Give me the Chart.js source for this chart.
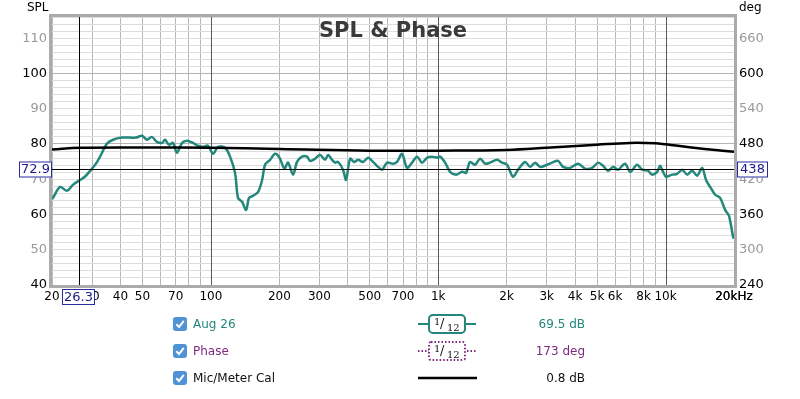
<!DOCTYPE html>
<html>
<head>
<meta charset="utf-8">
<script src="https://cdn.jsdelivr.net/npm/chart.js@4.4.1/dist/chart.umd.min.js"></script>
<style>
  body { margin: 0; background: #fff; font-family: "DejaVu Sans", sans-serif; }
  #wrap { position: relative; width: 800px; height: 399px; overflow: hidden; }
  #chart { position: absolute; left: 0; top: 0; }
  .cb { position: absolute; left: 173px; width: 14px; height: 14px; }
  .lbl { position: absolute; left: 193px; font-size: 12px; line-height: 14px; }
  .val { position: absolute; right: 215px; font-size: 12px; line-height: 14px; text-align: right; }
  #samples { position: absolute; left: 410px; top: 308px; }
</style>
</head>
<body>
<div id="wrap">
  <canvas id="chart" width="800" height="399"></canvas>

  <svg class="cb" style="top:317px" viewBox="0 0 14 14"><rect width="14" height="14" rx="3" fill="#4f93d6"/><path d="M3.3 7.3 L6 10 L10.8 3.8" stroke="#fff" stroke-width="2" fill="none"/></svg>
  <div class="lbl" style="top:317px;color:#23877c">Aug 26</div>
  <svg class="cb" style="top:344px" viewBox="0 0 14 14"><rect width="14" height="14" rx="3" fill="#4f93d6"/><path d="M3.3 7.3 L6 10 L10.8 3.8" stroke="#fff" stroke-width="2" fill="none"/></svg>
  <div class="lbl" style="top:344px;color:#7f2a7f">Phase</div>
  <svg class="cb" style="top:371px" viewBox="0 0 14 14"><rect width="14" height="14" rx="3" fill="#4f93d6"/><path d="M3.3 7.3 L6 10 L10.8 3.8" stroke="#fff" stroke-width="2" fill="none"/></svg>
  <div class="lbl" style="top:371px;color:#111">Mic/Meter Cal</div>

  <svg id="samples" width="80" height="80">
    <line x1="8" y1="16" x2="66" y2="16" stroke="#23877c" stroke-width="2"/>
    <rect x="19" y="7" width="36" height="18" rx="4" fill="#fff" stroke="#23877c" stroke-width="2"/>
    <text x="24" y="17" font-size="10" font-family="DejaVu Serif" fill="#111">1</text>
    <text x="30" y="20" font-size="13" font-family="DejaVu Serif" fill="#111">/</text>
    <text x="37" y="23" font-size="10" font-family="DejaVu Serif" fill="#111">12</text>

    <line x1="8" y1="43" x2="66" y2="43" stroke="#7f2a7f" stroke-width="2" stroke-dasharray="1.5,2"/>
    <rect x="19" y="34" width="36" height="18" rx="2" fill="#fff" stroke="#7f2a7f" stroke-width="2" stroke-dasharray="1.5,2"/>
    <text x="24" y="44" font-size="10" font-family="DejaVu Serif" fill="#111">1</text>
    <text x="30" y="47" font-size="13" font-family="DejaVu Serif" fill="#111">/</text>
    <text x="37" y="50" font-size="10" font-family="DejaVu Serif" fill="#111">12</text>

    <line x1="8" y1="70" x2="67" y2="70" stroke="#000" stroke-width="2.5"/>
  </svg>

  <div class="val" style="top:317px;color:#23877c">69.5 dB</div>
  <div class="val" style="top:344px;color:#7f2a7f">173 deg</div>
  <div class="val" style="top:371px;color:#111">0.8 dB</div>
</div>

<script>
// SPL measurement (Aug 26), 1/12 octave smoothed
const splFreq = [20, 20.2, 21.7, 23.3, 24.7, 26.6, 27.9, 30.0, 31.6, 33.2, 34.9, 37.1, 40.6, 44.1, 46.8,
  49.8, 52.4, 55.0, 57.9, 61.0, 62.8, 65.4, 68.1, 70.9, 74.7, 78.5, 83.4, 87.7, 92.3, 97.1,
  102.2, 107.5, 115.4, 121.4, 127.7, 131.6, 137.1, 142.8, 147.2, 153.3, 161.3, 168.0, 173.1, 182.1, 191.5,
  200.3, 210.6, 218.4, 229.8, 239.3, 251.7, 264.8, 273.0, 287.2, 302.1, 317.8, 327.6, 341.2, 351.7, 362.5,
  381.3, 393.1, 409.4, 426.4, 444.0, 467.1, 491.4, 516.8, 543.6, 566.1, 595.6, 632.6, 659.0, 693.0, 729.1,
  766.9, 806.8, 848.7, 892.8, 939.3, 988.1, 1019, 1072, 1127, 1198, 1273, 1326, 1380, 1452, 1528,
  1607, 1690, 1815, 1908, 2008, 2133, 2244, 2410, 2535, 2667, 2805, 3012, 3168, 3366, 3541,
  3802, 4122, 4426, 4754, 5050, 5310, 5586, 5876, 6180, 6638, 6982, 7498, 7888, 8376, 8730,
  9184, 9464, 9750, 10046, 10684, 11240, 11824, 12440, 13092, 13774, 14488, 15068, 15704, 16520, 17378,
  18282, 19014, 19816, 20000];
const splDb = [64.4, 64.7, 67.8, 66.7, 68.4, 69.8, 70.7, 73.0, 74.9, 77.5, 80.1, 81.2, 81.8, 81.8, 81.8,
  82.3, 81.2, 82.0, 80.6, 80.3, 81.2, 79.8, 80.3, 77.5, 80.3, 80.9, 80.3, 79.5, 79.2, 79.5,
  77.2, 79.2, 78.9, 76.4, 71.8, 64.7, 63.6, 61.3, 64.7, 65.3, 66.4, 69.8, 74.1, 75.5, 77.2,
  76.1, 73.0, 74.7, 71.3, 74.9, 76.4, 76.4, 75.2, 75.8, 76.9, 75.5, 76.9, 75.5, 74.7, 74.9,
  72.7, 69.8, 75.8, 74.9, 75.5, 74.9, 76.1, 74.9, 73.5, 72.7, 74.7, 74.4, 74.9, 77.2, 73.2,
  74.7, 76.4, 74.7, 76.1, 76.4, 76.1, 76.4, 74.7, 72.1, 71.3, 72.1, 71.8, 74.9, 74.1, 75.8,
  74.4, 74.7, 75.5, 74.7, 74.1, 70.7, 72.7, 74.9, 73.5, 74.7, 73.5, 74.1, 74.7, 75.2, 73.5,
  73.2, 74.4, 73.0, 73.2, 74.7, 73.8, 72.4, 73.5, 72.7, 74.4, 72.1, 74.1, 72.7, 72.4, 71.3,
  72.1, 73.8, 72.1, 70.7, 71.3, 71.5, 72.7, 71.3, 72.4, 71.0, 73.2, 69.8, 67.8, 65.6, 64.7,
  61.3, 59.6, 53.6, 53.2];

// Mic/Meter calibration curve
const calFreq = [20, 26.6, 50, 100, 200, 500, 1000, 2000, 3000, 5000, 7000, 9000, 10000, 13000, 17000, 20000];
const calDb = [78.4, 78.9, 79.0, 78.9, 78.6, 78.1, 78.1, 78.3, 78.9, 79.8, 80.3, 80.2, 79.9, 79.0, 78.2, 77.8];

// axis labels
const xTickVals = [20, 30, 40, 50, 70, 100, 200, 300, 500, 700, 1000, 2000, 3000, 4000, 5000, 6000, 8000, 10000, 20000];
const xTickLabels = ['20', '30', '40', '50', '70', '100', '200', '300', '500', '700', '1k', '2k', '3k', '4k', '5k', '6k', '8k', '10k', '20kHz'];
const decadeLines = [100, 1000, 10000];
const splTicks = [40, 50, 60, 70, 80, 90, 100, 110];
const degTicks = [240, 300, 360, 420, 480, 540, 600, 660];

// cursor position
const cursorFreq = 26.3;
const cursorSpl = 72.9;
const cursorDeg = 438;

const TEAL = '#23877c';
const FONT = '"DejaVu Sans", sans-serif';

// vertical grid lines: every 1..9 step of each decade
const xGrid = [];
[10, 100, 1000, 10000].forEach(d => {
  for (let m = 1; m < 10; m++) {
    const v = m * d;
    if (v >= 20 && v <= 20000) xGrid.push(v);
  }
});
xGrid.push(20000);

const chartDecor = {
  id: 'chartDecor',
  beforeDatasetsDraw(chart) {
    const { ctx, chartArea } = chart;
    ctx.save();
    // decade lines on top of the horizontal grid so they stay solid
    ctx.strokeStyle = '#5a5a5a';
    ctx.lineWidth = 1;
    ctx.beginPath();
    decadeLines.forEach(v => {
      const px = Math.round(chart.scales.x.getPixelForValue(v)) + 0.5;
      ctx.moveTo(px, chartArea.top);
      ctx.lineTo(px, chartArea.bottom);
    });
    ctx.stroke();

    ctx.font = 'bold 21px ' + FONT;
    ctx.fillStyle = '#3a3a3a';
    ctx.textAlign = 'center';
    ctx.textBaseline = 'middle';
    ctx.fillText('SPL & Phase', 393, 32);
    ctx.restore();
  },
  afterDatasetsDraw(chart) {
    const { ctx, chartArea } = chart;
    const x = chart.scales.x, y = chart.scales.y;
    const cx = Math.round(x.getPixelForValue(cursorFreq)) + 0.5;
    const cy = Math.round(y.getPixelForValue(cursorSpl)) + 0.5;
    ctx.save();
    ctx.strokeStyle = '#000';
    ctx.lineWidth = 1;
    ctx.beginPath();
    ctx.moveTo(cx, chartArea.top); ctx.lineTo(cx, chartArea.bottom);
    ctx.moveTo(chartArea.left, cy); ctx.lineTo(chartArea.right, cy);
    ctx.stroke();

    // frame
    ctx.strokeStyle = '#ababab';
    ctx.lineWidth = 3;
    ctx.strokeRect(chartArea.left - 1.5, chartArea.top - 1.5, chartArea.width + 3, chartArea.height + 3);

    // axis titles
    ctx.font = '12px ' + FONT;
    ctx.fillStyle = '#000';
    ctx.textBaseline = 'middle';
    ctx.textAlign = 'left';
    ctx.fillText('SPL', 27, 8);
    ctx.fillText('deg', 739, 8);

    // cursor value boxes
    const box = (text, bx, by, w) => {
      ctx.fillStyle = '#fff';
      ctx.fillRect(bx, by, w, 16);
      ctx.strokeStyle = '#2b2ba0';
      ctx.lineWidth = 1;
      ctx.strokeRect(bx + 0.5, by + 0.5, w - 1, 15);
      ctx.fillStyle = '#1c1c8a';
      ctx.font = '13px ' + FONT;
      ctx.textAlign = 'center';
      ctx.fillText(text, bx + w / 2, by + 8.5);
    };
    box(cursorSpl.toFixed(1), 19, cy - 8, 33);
    box(cursorFreq.toFixed(1), 62, 289, 33);
    box(String(cursorDeg), 737, cy - 8, 31);
    ctx.restore();
  }
};

new Chart(document.getElementById('chart'), {
  type: 'line',
  data: {
    datasets: [
      {
        label: 'Mic/Meter Cal',
        data: calFreq.map((f, i) => ({ x: f, y: calDb[i] })),
        borderColor: '#000',
        borderWidth: 2.5,
        pointRadius: 0,
        tension: 0.4,
        yAxisID: 'y'
      },
      {
        label: 'Aug 26',
        data: splFreq.map((f, i) => ({ x: f, y: splDb[i] })),
        borderColor: TEAL,
        borderWidth: 2.5,
        pointRadius: 0,
        tension: 0.3,
        yAxisID: 'y'
      }
    ]
  },
  options: {
    responsive: false,
    animation: false,
    events: [],
    layout: { padding: { top: 17, left: 0, right: 0, bottom: 0 } },
    plugins: { legend: { display: false }, tooltip: { enabled: false } },
    scales: {
      x: {
        type: 'logarithmic',
        min: 20,
        max: 20000,
        border: { display: false },
        afterBuildTicks: s => { s.ticks = xGrid.map(v => ({ value: v })); },
        afterFit: s => { s.height = 114; },
        grid: {
          drawTicks: false,
          lineWidth: 1,
          // decade lines are drawn by the plugin instead
          color: c => (c.tick && decadeLines.includes(c.tick.value)) ? 'rgba(0,0,0,0)' : '#b8b8b8'
        },
        ticks: {
          autoSkip: false,
          maxRotation: 0,
          padding: 5,
          color: '#000',
          font: { family: FONT, size: 12 },
          callback: v => {
            const i = xTickVals.indexOf(v);
            return i >= 0 ? xTickLabels[i] : '';
          }
        }
      },
      y: {
        type: 'linear',
        position: 'left',
        min: 40,
        max: 116,
        border: { display: false },
        afterFit: s => { s.width = 52; },
        grid: {
          drawTicks: false,
          color: c => (c.tick && c.tick.value % 20 === 0) ? '#b4b4b4' : '#dddddd'
        },
        ticks: {
          stepSize: 2,
          autoSkip: false,
          padding: 5,
          font: { family: FONT, size: 13 },
          color: c => (c.tick && c.tick.value % 20 === 0) ? '#000' : '#999',
          callback: v => splTicks.includes(v) ? String(v) : ''
        }
      },
      y2: {
        type: 'linear',
        position: 'right',
        min: 240,
        max: 696,
        border: { display: false },
        afterFit: s => { s.width = 66; },
        grid: { display: false, drawTicks: false },
        ticks: {
          stepSize: 60,
          autoSkip: false,
          padding: 5,
          font: { family: FONT, size: 13 },
          color: c => (c.tick && (c.tick.value - 240) % 120 === 0) ? '#000' : '#999',
          callback: v => degTicks.includes(v) ? String(v) : ''
        }
      }
    }
  },
  plugins: [chartDecor]
});
</script>
</body>
</html>
